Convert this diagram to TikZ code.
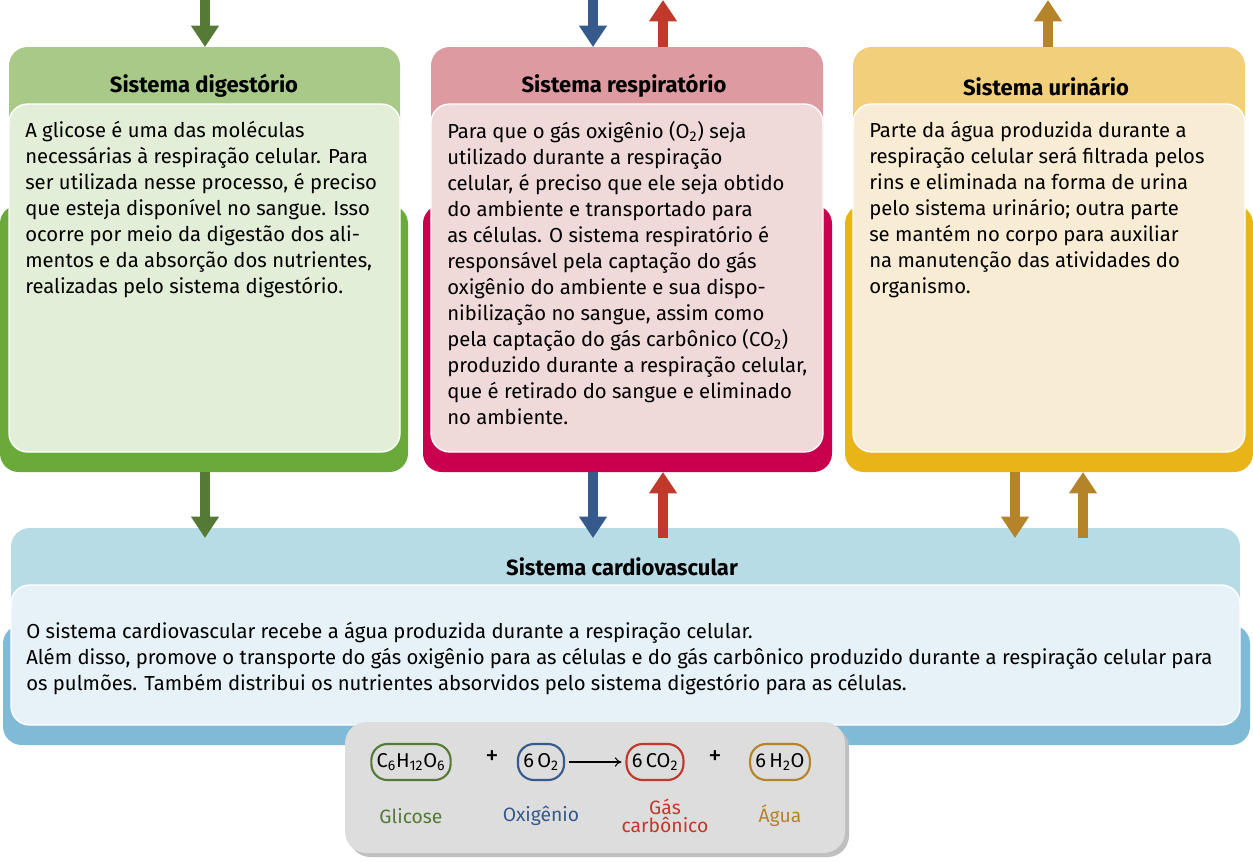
\documentclass[tikz,border=0pt]{standalone}
\usepackage{fontspec}
\setmainfont{Fira Sans}
\usetikzlibrary{arrows.meta,calc}
\definecolor{gD}{HTML}{6AAA3A}\definecolor{gH}{HTML}{A8C987}\definecolor{gP}{HTML}{E3EED8}
\definecolor{rD}{HTML}{C8004E}\definecolor{rH}{HTML}{DD9AA0}\definecolor{rP}{HTML}{F0D9D9}
\definecolor{yD}{HTML}{E8B418}\definecolor{yH}{HTML}{F2CF7A}\definecolor{yP}{HTML}{F9ECD5}
\definecolor{bD}{HTML}{7FBBD6}\definecolor{bH}{HTML}{B8DCE6}\definecolor{bP}{HTML}{E6F2F7}
\definecolor{aG}{HTML}{557A35}\definecolor{aB}{HTML}{375A8C}\definecolor{aR}{HTML}{C0392B}\definecolor{aY}{HTML}{B5832A}
\definecolor{eq}{HTML}{DDDDDD}
\tikzset{
 box/.style={rounded corners=14pt},
 pale/.style={rounded corners=14pt, draw=white, line width=1pt},
 arr/.style={line width=7pt, -{Triangle[length=16pt,width=20pt]}},
 ttl/.style={font=\bfseries\fontsize{16.5}{19}\selectfont, anchor=center},
 body/.style={font=\fontsize{15.2}{19.5}\selectfont, align=left, anchor=north west, inner sep=0pt},
 pill/.style={draw, line width=1.6pt, rounded corners=12pt, minimum height=27pt, inner xsep=4pt, font=\fontsize{15}{17}\selectfont},
 lab/.style={font=\fontsize{14.5}{16}\selectfont, align=center}
}
\begin{document}
\begin{tikzpicture}[x=0.75pt,y=-0.75pt]
\useasboundingbox (0,0) rectangle (1253,861);
% digestive
\fill[gD,box] (0,205) rectangle (408,472);
\fill[gH,box] (9,47) rectangle (400,250);
\fill[gP,pale] (9,104) rectangle (400,452);
\node[ttl] (td) at (204,86) {Sistema digestório};
\node[body] (bd) at (25,121) {A glicose é uma das moléculas\\necessárias à respiração celular. Para\\ser utilizada nesse processo, é preciso\\que esteja disponível no sangue. Isso\\ocorre por meio da digestão dos ali-\\mentos e da absorção dos nutrientes,\\realizadas pelo sistema digestório.};
% respiratory
\fill[rD,box] (423,205) rectangle (832,472);
\fill[rH,box] (431,47) rectangle (823,250);
\fill[rP,pale] (431,104) rectangle (823,452);
\node[ttl] (tr) at (624,86) {Sistema respiratório};
\node[body] (br) at (447,121) {Para que o gás oxigênio (O\textsubscript{2}) seja\\utilizado durante a respiração\\celular, é preciso que ele seja obtido\\do ambiente e transportado para\\as células. O sistema respiratório é\\responsável pela captação do gás\\oxigênio do ambiente e sua dispo-\\nibilização no sangue, assim como\\pela captação do gás carbônico (CO\textsubscript{2})\\produzido durante a respiração celular,\\que é retirado do sangue e eliminado\\no ambiente.};
% urinary
\fill[yD,box] (845,205) rectangle (1253,472);
\fill[yH,box] (853,47) rectangle (1245,250);
\fill[yP,pale] (853,104) rectangle (1245,452);
\node[ttl] (tu) at (1046,86) {Sistema urinário};
\node[body] (bu) at (869,121) {Parte da água produzida durante a\\respiração celular será filtrada pelos\\rins e eliminada na forma de urina\\pelo sistema urinário; outra parte\\se mantém no corpo para auxiliar\\na manutenção das atividades do\\organismo.};
% cardio
\fill[bD,box] (3,625) rectangle (1250,745);
\fill[bH,box] (11,528) rectangle (1240,650);
\fill[bP,pale] (11,585) rectangle (1240,725);
\node[ttl] (tc) at (622,567) {Sistema cardiovascular};
\node[body] (bc) at (26,622) {O sistema cardiovascular recebe a água produzida durante a respiração celular.\\Além disso, promove o transporte do gás oxigênio para as células e do gás carbônico produzido durante a respiração celular para\\os pulmões. Também distribui os nutrientes absorvidos pelo sistema digestório para as células.};
% equation
\fill[black!25,rounded corners=16pt] (349,726) rectangle (849,857);
\fill[eq,rounded corners=16pt] (345,722) rectangle (845,853);
\node[pill,draw=aG] (p1) at (411,762) {C\textsubscript{6}H\textsubscript{12}O\textsubscript{6}};
\node[font=\fontsize{20}{21}\selectfont] (plus1) at (492,758) {+};
\node[pill,draw=aB] (p2) at (541,762) {6\,O\textsubscript{2}};
\node[pill,draw=aR] (p3) at (655,762) {6\,CO\textsubscript{2}};
\node[font=\fontsize{20}{21}\selectfont] (plus2) at (715,758) {+};
\node[pill,draw=aY] (p4) at (780,762) {6\,H\textsubscript{2}O};
\draw[-{To[length=5pt,width=7pt]},line width=0.8pt] ($(p2.east)+(4,0)$) -- ($(p3.west)+(-4,0)$);
\node[lab,text=aG] (l1) at (411,816) {Glicose};
\node[lab,text=aB] (l2) at (541,816) {Oxigênio};
\node[lab,text=aR] (l3) at (665,816) {Gás\\[-2pt]carbônico};
\node[lab,text=aY] (l4) at (780,816) {Água};
% arrows
\coordinate (g0) at (205,0); \coordinate (g1) at (205,47);
\coordinate (g2) at (205,472); \coordinate (g3) at (205,538);
\draw[arr,aG] (g0) -- (g1); \draw[arr,aG] (g2) -- (g3);
\coordinate (b0) at (593,0); \coordinate (b1) at (593,47);
\coordinate (b2) at (593,472); \coordinate (b3) at (593,538);
\draw[arr,aB] (b0) -- (b1); \draw[arr,aB] (b2) -- (b3);
\coordinate (r0) at (663,47); \coordinate (r1) at (663,0);
\coordinate (r2) at (663,538); \coordinate (r3) at (663,472);
\draw[arr,aR] (r0) -- (r1); \draw[arr,aR] (r2) -- (r3);
\coordinate (y0) at (1048,47); \coordinate (y1) at (1048,0);
\coordinate (y2) at (1015,472); \coordinate (y3) at (1015,538);
\coordinate (y4) at (1083,538); \coordinate (y5) at (1083,472);
\draw[arr,aY] (y0) -- (y1); \draw[arr,aY] (y2) -- (y3); \draw[arr,aY] (y4) -- (y5);
\end{tikzpicture}
\end{document}
